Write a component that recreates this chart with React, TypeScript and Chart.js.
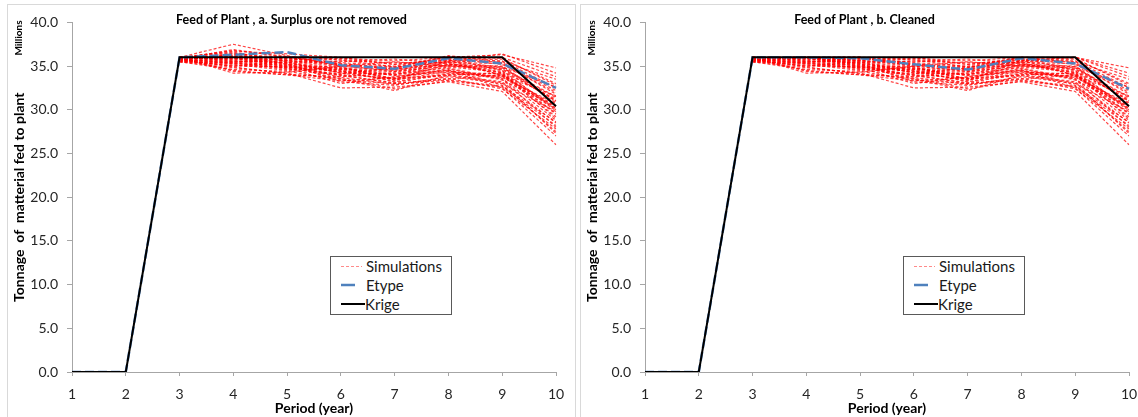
import React, { useEffect, useRef } from 'react';
import { Chart, registerables } from 'chart.js';

Chart.register(...registerables);

const periods = ['1', '2', '3', '4', '5', '6', '7', '8', '9', '10'];

const krigeA = [0, 0, 36.0, 36.0, 36.0, 36.0, 36.0, 36.0, 36.0, 30.4];
const etypeA = [0, 0, 36.0, 36.3, 36.6, 35.1, 34.7, 35.9, 35.3, 32.5];

const krigeB = [0, 0, 36.0, 36.0, 36.0, 36.0, 36.0, 36.0, 36.0, 30.4];
const etypeB = [0, 0, 36.0, 36.0, 35.9, 35.2, 34.6, 35.9, 35.3, 32.4];

// simulations start at period 3 (periods 1-2 hidden under the Krige line)
const simulationsA = [
  [null, null, 36.0, 37.5, 36.2, 35.0, 34.5, 35.6, 35.8, 33.0],
  [null, null, 35.8, 36.9, 36.0, 35.4, 35.0, 36.0, 36.3, 34.8],
  [null, null, 36.0, 36.6, 35.5, 34.2, 33.5, 35.2, 35.0, 31.0],
  [null, null, 35.7, 36.3, 35.8, 35.8, 35.2, 35.9, 34.5, 30.0],
  [null, null, 35.9, 36.0, 35.0, 33.5, 32.2, 34.0, 33.2, 28.5],
  [null, null, 35.6, 35.8, 35.2, 34.8, 34.0, 35.5, 35.6, 32.5],
  [null, null, 36.0, 35.5, 34.8, 33.0, 33.8, 34.5, 32.5, 27.0],
  [null, null, 35.8, 35.2, 34.5, 34.0, 33.0, 33.5, 34.0, 29.5],
  [null, null, 35.5, 34.8, 34.2, 32.5, 32.6, 33.2, 32.1, 26.0],
  [null, null, 35.9, 34.5, 34.0, 33.8, 34.2, 34.8, 33.5, 28.0],
  [null, null, 36.0, 34.2, 34.3, 35.0, 35.5, 35.0, 34.8, 31.5],
  [null, null, 35.7, 35.0, 35.5, 34.5, 33.2, 34.2, 33.8, 30.5],
  [null, null, 35.8, 36.4, 36.0, 35.2, 34.8, 36.2, 35.5, 33.5],
  [null, null, 35.6, 35.6, 35.0, 34.0, 33.6, 34.6, 32.8, 27.5],
  [null, null, 36.0, 36.2, 35.6, 35.5, 35.8, 35.3, 34.2, 29.0],
  [null, null, 35.9, 35.9, 35.3, 33.2, 32.8, 33.8, 33.0, 29.8],
  [null, null, 35.5, 35.4, 34.6, 34.6, 34.4, 35.0, 34.6, 31.0],
  [null, null, 36.0, 36.7, 36.4, 36.0, 35.2, 35.7, 36.0, 33.8],
  [null, null, 35.8, 34.9, 34.1, 33.6, 32.4, 33.3, 32.6, 28.2],
  [null, null, 35.7, 36.1, 35.9, 35.3, 34.6, 35.8, 35.2, 32.0],
  [null, null, 35.9, 35.3, 35.1, 34.3, 34.0, 34.9, 34.3, 30.2],
  [null, null, 36.0, 36.5, 35.7, 34.9, 33.4, 34.4, 33.6, 28.8],
  [null, null, 35.6, 35.1, 34.9, 33.9, 33.1, 34.1, 33.9, 29.2],
  [null, null, 35.8, 36.0, 35.4, 35.6, 35.4, 35.4, 35.3, 31.8],
  [null, null, 36.0, 35.7, 34.7, 34.1, 34.8, 36.1, 35.9, 32.8],
  [null, null, 35.5, 34.6, 34.4, 33.4, 33.0, 33.6, 32.4, 27.8],
  [null, null, 35.9, 36.8, 36.1, 35.7, 34.9, 35.5, 34.9, 30.8],
  [null, null, 35.7, 35.5, 35.6, 34.7, 33.9, 34.3, 34.1, 29.6],
  [null, null, 36.0, 34.4, 34.0, 33.3, 33.7, 34.7, 33.4, 30.4],
  [null, null, 35.8, 36.2, 35.3, 34.4, 34.3, 35.1, 34.4, 31.2],
  [null, null, 35.6, 35.0, 34.9, 34.9, 33.5, 33.9, 33.1, 27.3],
  [null, null, 35.9, 35.8, 36.0, 35.1, 34.7, 35.6, 36.4, 34.2],
  [null, null, 35.7, 36.4, 35.2, 33.7, 32.9, 33.4, 32.7, 28.6],
  [null, null, 36.0, 35.6, 35.4, 34.2, 34.1, 34.5, 33.7, 30.7],
  [null, null, 35.5, 35.3, 34.8, 34.7, 34.6, 35.2, 34.7, 31.4],
  [null, null, 35.8, 35.9, 35.7, 35.9, 35.6, 36.0, 35.4, 32.2],
  [null, null, 35.9, 36.1, 35.1, 34.6, 33.6, 34.0, 34.2, 29.9],
  [null, null, 35.7, 35.4, 35.9, 35.0, 34.4, 35.4, 34.0, 30.1],
  [null, null, 36.0, 35.9, 34.9, 34.4, 33.3, 35.7, 33.9, 31.6],
  [null, null, 35.8, 36.0, 35.6, 35.2, 34.9, 35.1, 34.9, 32.6],
];

const simulationsB = [
  [null, null, 36.0, 36.0, 36.0, 35.0, 34.5, 35.6, 35.8, 33.0],
  [null, null, 35.8, 36.0, 36.0, 35.4, 35.0, 36.0, 36.0, 34.8],
  [null, null, 36.0, 36.0, 35.5, 34.2, 33.5, 35.2, 35.0, 31.0],
  [null, null, 35.7, 36.0, 35.8, 35.8, 35.2, 35.9, 34.5, 30.0],
  [null, null, 35.9, 36.0, 35.0, 33.5, 32.2, 34.0, 33.2, 28.5],
  [null, null, 35.6, 35.8, 35.2, 34.8, 34.0, 35.5, 35.6, 32.5],
  [null, null, 36.0, 35.5, 34.8, 33.0, 33.8, 34.5, 32.5, 27.0],
  [null, null, 35.8, 35.2, 34.5, 34.0, 33.0, 33.5, 34.0, 29.5],
  [null, null, 35.5, 34.8, 34.2, 32.5, 32.6, 33.2, 32.1, 26.0],
  [null, null, 35.9, 34.5, 34.0, 33.8, 34.2, 34.8, 33.5, 28.0],
  [null, null, 36.0, 34.2, 34.3, 35.0, 35.5, 35.0, 34.8, 31.5],
  [null, null, 35.7, 35.0, 35.5, 34.5, 33.2, 34.2, 33.8, 30.5],
  [null, null, 35.8, 36.0, 36.0, 35.2, 34.8, 36.0, 35.5, 33.5],
  [null, null, 35.6, 35.6, 35.0, 34.0, 33.6, 34.6, 32.8, 27.5],
  [null, null, 36.0, 36.0, 35.6, 35.5, 35.8, 35.3, 34.2, 29.0],
  [null, null, 35.9, 35.9, 35.3, 33.2, 32.8, 33.8, 33.0, 29.8],
  [null, null, 35.5, 35.4, 34.6, 34.6, 34.4, 35.0, 34.6, 31.0],
  [null, null, 36.0, 36.0, 36.0, 36.0, 35.2, 35.7, 36.0, 33.8],
  [null, null, 35.8, 34.9, 34.1, 33.6, 32.4, 33.3, 32.6, 28.2],
  [null, null, 35.7, 36.0, 35.9, 35.3, 34.6, 35.8, 35.2, 32.0],
  [null, null, 35.9, 35.3, 35.1, 34.3, 34.0, 34.9, 34.3, 30.2],
  [null, null, 36.0, 36.0, 35.7, 34.9, 33.4, 34.4, 33.6, 28.8],
  [null, null, 35.6, 35.1, 34.9, 33.9, 33.1, 34.1, 33.9, 29.2],
  [null, null, 35.8, 36.0, 35.4, 35.6, 35.4, 35.4, 35.3, 31.8],
  [null, null, 36.0, 35.7, 34.7, 34.1, 34.8, 36.0, 35.9, 32.8],
  [null, null, 35.5, 34.6, 34.4, 33.4, 33.0, 33.6, 32.4, 27.8],
  [null, null, 35.9, 36.0, 36.0, 35.7, 34.9, 35.5, 34.9, 30.8],
  [null, null, 35.7, 35.5, 35.6, 34.7, 33.9, 34.3, 34.1, 29.6],
  [null, null, 36.0, 34.4, 34.0, 33.3, 33.7, 34.7, 33.4, 30.4],
  [null, null, 35.8, 36.0, 35.3, 34.4, 34.3, 35.1, 34.4, 31.2],
  [null, null, 35.6, 35.0, 34.9, 34.9, 33.5, 33.9, 33.1, 27.3],
  [null, null, 35.9, 35.8, 36.0, 35.1, 34.7, 35.6, 36.0, 34.2],
  [null, null, 35.7, 36.0, 35.2, 33.7, 32.9, 33.4, 32.7, 28.6],
  [null, null, 36.0, 35.6, 35.4, 34.2, 34.1, 34.5, 33.7, 30.7],
  [null, null, 35.5, 35.3, 34.8, 34.7, 34.6, 35.2, 34.7, 31.4],
  [null, null, 35.8, 35.9, 35.7, 35.9, 35.6, 36.0, 35.4, 32.2],
  [null, null, 35.9, 36.0, 35.1, 34.6, 33.6, 34.0, 34.2, 29.9],
  [null, null, 35.7, 35.4, 35.9, 35.0, 34.4, 35.4, 34.0, 30.1],
  [null, null, 36.0, 35.9, 34.9, 34.4, 33.3, 35.7, 33.9, 31.6],
  [null, null, 35.8, 36.0, 35.6, 35.2, 34.9, 35.1, 34.9, 32.6],
];

const titleA = 'Feed of Plant , a. Surplus ore not removed';
const titleB = 'Feed of Plant , b. Cleaned';
const yTitle = 'Tonnage  of  matterial fed to plant';
const xTitle = 'Period (year)';
const unitLabel = 'Millions';
const legendLabels = ['Simulations', 'Etype', 'Krige'];

const FONT = 'Lato, "Open Sans", sans-serif';
const SIM_COLOR = 'rgba(255, 0, 0, 0.72)';
const SIM_LEGEND_COLOR = 'rgba(255, 60, 60, 0.6)';
const ETYPE_COLOR = '#4f81bd';
const KRIGE_COLOR = '#000000';
const AXIS_COLOR = '#a6a6a6';

const CANVAS_W = 567;
const CANVAS_H = 412;

type PanelProps = {
  left: number;
  title: string;
  sims: (number | null)[][];
  etype: number[];
  krige: number[];
};

function Panel({ left, title, sims, etype, krige }: PanelProps) {
  const ref = useRef<HTMLCanvasElement | null>(null);

  useEffect(() => {
    const canvas = ref.current;
    if (!canvas) return;
    const datasets: any[] = [
      {
        label: legendLabels[2],
        data: krige,
        borderColor: KRIGE_COLOR,
        borderWidth: 2,
        pointRadius: 0,
        order: 0,
      },
      {
        label: legendLabels[1],
        data: etype,
        borderColor: ETYPE_COLOR,
        borderWidth: 2.5,
        borderDash: [9, 4],
        pointRadius: 0,
        order: 1,
      },
      ...sims.map((s) => ({
        label: legendLabels[0],
        data: s,
        borderColor: SIM_COLOR,
        borderWidth: 1.2,
        borderDash: [3, 2],
        pointRadius: 0,
        order: 2,
      })),
    ];

    const overlay = {
      id: 'overlay',
      afterDraw(chart: any) {
        const c = chart.ctx;
        c.save();
        c.fillStyle = '#000';
        c.font = `bold 12.5px ${FONT}`;
        c.textAlign = 'center';
        c.textBaseline = 'middle';
        c.fillText(title, chart.width / 2, 15);
        c.translate(11, 33);
        c.rotate(-Math.PI / 2);
        c.font = `bold 10px ${FONT}`;
        c.fillText(unitLabel, 0, 0);
        c.restore();
      },
    };

    const chart = new Chart(canvas, {
      type: 'line',
      data: { labels: periods, datasets },
      options: {
        responsive: false,
        animation: false,
        layout: { padding: { top: 9, right: 19, left: 0, bottom: 0 } },
        elements: { line: { tension: 0 } },
        plugins: {
          legend: { display: false },
          tooltip: { enabled: false },
          title: { display: false },
        },
        scales: {
          x: {
            type: 'category',
            offset: false,
            grid: {
              display: true,
              drawOnChartArea: false,
              drawTicks: true,
              tickLength: 4,
              color: AXIS_COLOR,
            },
            border: { display: true, color: AXIS_COLOR },
            ticks: {
              color: '#262626',
              font: { family: FONT, size: 14 },
              padding: 10,
              maxRotation: 0,
              autoSkip: false,
            },
            title: {
              display: true,
              text: xTitle,
              color: '#000',
              font: { family: FONT, size: 14, weight: 'bold' },
              padding: { top: 0, bottom: 0 },
            },
            afterFit: (s: any) => {
              s.height = 45;
            },
          },
          y: {
            min: 0,
            max: 40,
            grid: {
              display: true,
              drawOnChartArea: false,
              drawTicks: true,
              tickLength: 5,
              color: AXIS_COLOR,
            },
            border: { display: true, color: AXIS_COLOR },
            ticks: {
              stepSize: 5,
              color: '#262626',
              font: { family: FONT, size: 14 },
              padding: 9,
              callback: (v: any) => Number(v).toFixed(1),
            },
            title: {
              display: true,
              text: yTitle,
              color: '#000',
              font: { family: FONT, size: 14, weight: 'bold' },
              padding: { top: 3, bottom: 0 },
            },
            afterFit: (s: any) => {
              s.width = 64;
            },
          },
        },
      } as any,
      plugins: [overlay],
    });
    return () => chart.destroy();
  }, [title, sims, etype, krige]);

  const rows = [9, 28, 47];

  return (
    <div
      style={{
        position: 'absolute',
        left,
        top: 4,
        width: 569,
        height: 430,
        border: '1px solid #d9d9d9',
        boxSizing: 'border-box',
        background: '#fff',
      }}
    >
      <canvas
        ref={ref}
        width={CANVAS_W}
        height={CANVAS_H}
        style={{ position: 'absolute', left: 0, top: 0, display: 'block' }}
      />
      <div
        style={{
          position: 'absolute',
          left: 322,
          top: 251,
          width: 122,
          height: 59,
          border: '1px solid #595959',
          boxSizing: 'border-box',
          background: '#fff',
          fontFamily: FONT,
          fontSize: 15,
          color: '#1a1a1a',
        }}
      >
        <svg
          width={40}
          height={57}
          style={{ position: 'absolute', left: 0, top: 0 }}
        >
          <line x1={10} y1={rows[0] + 0.5} x2={31} y2={rows[0] + 0.5} stroke={SIM_LEGEND_COLOR} strokeWidth={1} strokeDasharray="3,2" />
          <line x1={10} y1={rows[1]} x2={24} y2={rows[1]} stroke={ETYPE_COLOR} strokeWidth={2.5} />
          <line x1={10} y1={rows[2]} x2={34} y2={rows[2]} stroke={KRIGE_COLOR} strokeWidth={2} />
        </svg>
        {legendLabels.map((t, i) => (
          <span
            key={t}
            style={{
              position: 'absolute',
              left: i === 2 ? 34 : 35,
              top: rows[i] - 9,
              lineHeight: '18px',
              whiteSpace: 'nowrap',
            }}
          >
            {t}
          </span>
        ))}
      </div>
    </div>
  );
}

export default function App() {
  return (
    <div
      style={{
        position: 'absolute',
        left: 0,
        top: 0,
        width: 1138,
        height: 417,
        overflow: 'hidden',
        background: '#fff',
      }}
    >
      <Panel left={7} title={titleA} sims={simulationsA} etype={etypeA} krige={krigeA} />
      <Panel left={580} title={titleB} sims={simulationsB} etype={etypeB} krige={krigeB} />
    </div>
  );
}
